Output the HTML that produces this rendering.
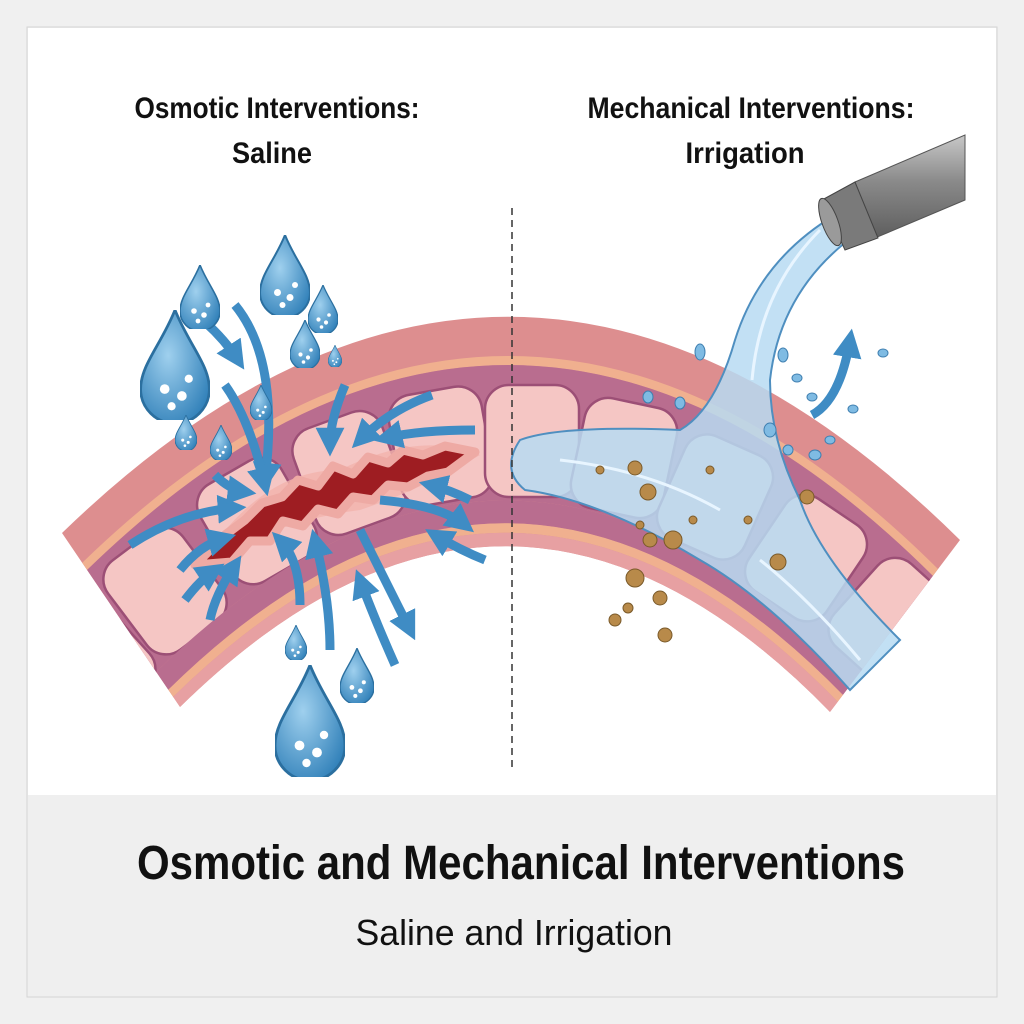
<!DOCTYPE html>
<html><head><meta charset="utf-8"><style>
html,body{margin:0;padding:0;background:#f0f0f0;}
svg{display:block}
text{font-family:"Liberation Sans Narrow","Liberation Sans",sans-serif;fill:#111}
</style></head><body>
<svg width="1024" height="1024" viewBox="0 0 1024 1024" xmlns="http://www.w3.org/2000/svg">
<defs>
<clipPath id="band"><path d="M62,533 Q512,97 960,540 L830,712 Q510,383 180,707 Z"/></clipPath>
<marker id="ah" viewBox="0 0 10 10" refX="6" refY="5" markerWidth="3.2" markerHeight="3.2" orient="auto"><path d="M0,0 L10,5 L0,10 Z" fill="#3f8cc4"/></marker>
<linearGradient id="noz" x1="0" y1="0" x2="0" y2="1"><stop offset="0" stop-color="#c8c8c8"/><stop offset="0.45" stop-color="#8a8a8a"/><stop offset="1" stop-color="#5e5e5e"/></linearGradient>
<radialGradient id="drop" cx="0.4" cy="0.4" r="0.7"><stop offset="0" stop-color="#9fd0ee"/><stop offset="1" stop-color="#2f7fb8"/></radialGradient>
<symbol id="d" viewBox="-10 -20 20 32"><path d="M0,-20 C4,-10 10,-4 10,3 A10,10 0 0 1 -10,3 C-10,-4 -4,-10 0,-20Z" fill="url(#drop)" stroke="#2b6f9f" stroke-width="0.8"/><circle cx="-3" cy="3" r="1.4" fill="#fff"/><circle cx="2" cy="5" r="1.4" fill="#fff"/><circle cx="4" cy="0" r="1.2" fill="#fff"/><circle cx="-1" cy="8" r="1.2" fill="#fff"/></symbol>
</defs>
<rect x="0" y="0" width="1024" height="1024" fill="#f0f0f0"/>
<rect x="27" y="27" width="970" height="970" fill="#efefef" stroke="#d4d4d4"/>
<rect x="28" y="28" width="968" height="767" fill="#ffffff"/>

<!-- tissue band -->
<g clip-path="url(#band)">
 <rect x="0" y="0" width="1024" height="800" fill="#dd8e8f"/>
 <path d="M82,563 Q512,146 938,569 L933,576 Q512,157 87,570 Z" fill="#f0b08f"/>
 <path d="M87,570 Q512,157 933,576 L856,678 Q510,326 156,672 Z" fill="#b96d8f"/>
 <g fill="#f5c6c4" stroke="#9c4f76" stroke-width="2.5">
  <rect x="118" y="535" width="94" height="112" rx="24" transform="rotate(-37 165 591)"/>
  <rect x="210" y="465" width="94" height="112" rx="24" transform="rotate(-30 257 521)"/>
  <rect x="302" y="417" width="94" height="112" rx="24" transform="rotate(-20 349 473)"/>
  <rect x="394" y="390" width="94" height="112" rx="24" transform="rotate(-10 441 446)"/>
  <rect x="485" y="385" width="94" height="112" rx="24" transform="rotate(0 532 441)"/>
  <rect x="577" y="402" width="94" height="112" rx="24" transform="rotate(12 624 458)"/>
  <rect x="668" y="441" width="94" height="112" rx="24" transform="rotate(24 715 497)"/>
  <rect x="759" y="502" width="94" height="112" rx="24" transform="rotate(34 806 558)"/>
  <rect x="844" y="565" width="94" height="112" rx="24" transform="rotate(42 891 621)"/>
  <rect x="46" y="605" width="94" height="112" rx="24" transform="rotate(-42 93 661)"/>
 </g>
 <path d="M156,672 Q510,326 856,678 L843,695 Q510,354 168,690 Z" fill="#b96d8f"/>
 <path d="M168,690 Q510,354 843,695 L838,702 Q510,366 173,697 Z" fill="#f0b08f"/>
 <path d="M173,697 Q510,366 838,702 L830,712 Q510,383 180,707 Z" fill="#e7a0a2"/>
</g>

<!-- wound -->
<path d="M200,565 Q260,470 340,470 Q420,430 480,455 Q420,490 360,510 Q280,520 200,565Z" fill="#f2b3ac" opacity="0.8"/>
<path d="M195,565 L225,535 L245,520 L262,503 L282,497 L298,480 L318,486 L333,466 L353,474 L368,457 L388,463 L403,450 L423,455 L445,446 L475,452 L448,472 L428,476 L408,487 L388,485 L373,500 L353,497 L338,514 L318,509 L303,526 L283,521 L270,541 L250,541 L232,562 Z" fill="#9e1d22" stroke="#eeaaa4" stroke-width="9" stroke-linejoin="round"/>

<!-- arrows -->
<g fill="none" stroke="#3f8cc4" stroke-width="9" stroke-linecap="butt" marker-end="url(#ah)">
 <path d="M235,305 Q280,360 265,480"/>
 <path d="M205,322 Q225,340 238,360"/>
 <path d="M225,385 Q250,420 265,485"/>
 <path d="M345,385 Q330,420 330,445"/>
 <path d="M432,395 Q390,410 360,440"/>
 <path d="M475,430 Q420,430 385,438"/>
 <path d="M130,545 Q180,512 235,508"/>
 <path d="M215,475 Q230,490 245,492"/>
 <path d="M180,570 Q200,545 225,538"/>
 <path d="M185,600 Q200,580 215,570"/>
 <path d="M210,620 Q215,595 235,565"/>
 <path d="M300,605 Q300,560 280,540"/>
 <path d="M330,650 Q330,600 315,540"/>
 <path d="M395,665 Q375,620 360,580"/>
 <path d="M360,530 Q385,580 410,630"/>
 <path d="M380,500 Q440,505 465,525"/>
 <path d="M485,560 Q460,550 435,535"/>
 <path d="M470,500 Q450,490 430,485"/>
 <path d="M812,415 Q840,400 850,340"/>
</g>

<!-- drops -->
<use href="#d" x="180" y="265" width="40" height="64"/>
<use href="#d" x="140" y="310" width="70" height="110"/>
<use href="#d" x="260" y="235" width="50" height="80"/>
<use href="#d" x="308" y="285" width="30" height="48"/>
<use href="#d" x="290" y="320" width="30" height="48"/>
<use href="#d" x="250" y="385" width="22" height="35"/>
<use href="#d" x="175" y="415" width="22" height="35"/>
<use href="#d" x="210" y="425" width="22" height="35"/>
<use href="#d" x="285" y="625" width="22" height="35"/>
<use href="#d" x="340" y="648" width="34" height="55"/>
<use href="#d" x="275" y="665" width="70" height="112"/>
<use href="#d" x="328" y="345" width="14" height="22"/>

<!-- water stream -->
<path d="M835,215 Q760,260 735,340 Q715,410 680,430 Q560,425 520,440 Q500,470 525,490 Q600,500 700,560 Q770,600 850,690 L900,640 Q820,560 800,500 Q770,440 770,380 Q780,290 855,235 Z" fill="#b7dbf2" fill-opacity="0.85" stroke="#4f8fc0" stroke-width="2"/>
<g fill="none" stroke="#e8f5ff" stroke-width="3">
 <path d="M820,230 Q760,290 752,380"/><path d="M560,460 Q650,470 720,510"/><path d="M760,560 Q810,600 860,660"/>
</g>
<g fill="#7fbbe3" stroke="#3f7fb0">
 <ellipse cx="700" cy="352" rx="5" ry="8"/><ellipse cx="783" cy="355" rx="5" ry="7"/><ellipse cx="883" cy="353" rx="5" ry="4"/>
 <ellipse cx="797" cy="378" rx="5" ry="4"/><ellipse cx="812" cy="397" rx="5" ry="4"/><ellipse cx="853" cy="409" rx="5" ry="4"/>
 <ellipse cx="770" cy="430" rx="6" ry="7"/><ellipse cx="788" cy="450" rx="5" ry="5"/><ellipse cx="815" cy="455" rx="6" ry="5"/>
 <ellipse cx="830" cy="440" rx="5" ry="4"/><ellipse cx="648" cy="397" rx="5" ry="6"/><ellipse cx="680" cy="403" rx="5" ry="6"/>
</g>
<g fill="#b88a4a" stroke="#7a5a2a">
 <circle cx="635" cy="468" r="7"/><circle cx="648" cy="492" r="8"/><circle cx="600" cy="470" r="4"/><circle cx="635" cy="578" r="9"/>
 <circle cx="660" cy="598" r="7"/><circle cx="628" cy="608" r="5"/><circle cx="615" cy="620" r="6"/><circle cx="665" cy="635" r="7"/>
 <circle cx="650" cy="540" r="7"/><circle cx="673" cy="540" r="9"/><circle cx="778" cy="562" r="8"/><circle cx="807" cy="497" r="7"/>
 <circle cx="693" cy="520" r="4"/><circle cx="710" cy="470" r="4"/><circle cx="748" cy="520" r="4"/><circle cx="640" cy="525" r="4"/>
</g>

<!-- nozzle -->
<path d="M855,182 L965,135 L965,200 L875,238 Z" fill="url(#noz)" stroke="#555"/>
<path d="M822,200 L855,182 L878,238 L845,250 Z" fill="#7a7a7a" stroke="#444"/>
<ellipse cx="830" cy="222" rx="8" ry="25" transform="rotate(-20 830 222)" fill="#9a9a9a" stroke="#444"/>

<!-- divider -->
<line x1="512" y1="208" x2="512" y2="772" stroke="#333" stroke-width="1.5" stroke-dasharray="7,5"/>

<!-- labels -->
<text x="277" y="118" font-size="30" font-weight="bold" text-anchor="middle" textLength="285" lengthAdjust="spacingAndGlyphs">Osmotic Interventions:</text>
<text x="272" y="163" font-size="30" font-weight="bold" text-anchor="middle" textLength="80" lengthAdjust="spacingAndGlyphs">Saline</text>
<text x="751" y="118" font-size="30" font-weight="bold" text-anchor="middle" textLength="327" lengthAdjust="spacingAndGlyphs">Mechanical Interventions:</text>
<text x="745" y="163" font-size="30" font-weight="bold" text-anchor="middle" textLength="119" lengthAdjust="spacingAndGlyphs">Irrigation</text>
<text x="521" y="879" font-size="48" font-weight="bold" text-anchor="middle" textLength="768" lengthAdjust="spacingAndGlyphs">Osmotic and Mechanical Interventions</text>
<text x="514" y="945" font-size="36" text-anchor="middle" textLength="317" lengthAdjust="spacingAndGlyphs">Saline and Irrigation</text>
</svg>
</body></html>
